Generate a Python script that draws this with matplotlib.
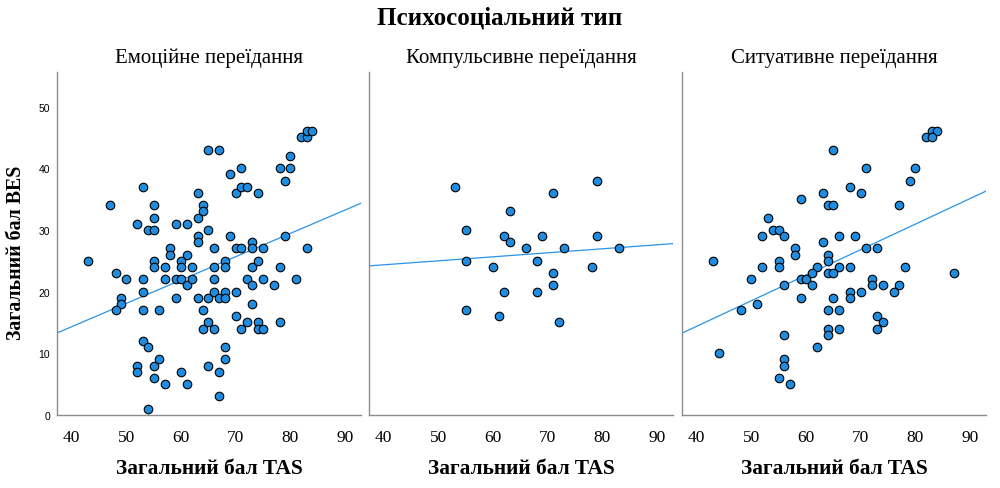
import numpy as np
import matplotlib
matplotlib.use("Agg")
import matplotlib.pyplot as plt

# ---- data ----
panel_titles = ["Емоційне переїдання", "Компульсивне переїдання", "Ситуативне переїдання"]
main_title = "Психосоціальний тип"
x_label = "Загальний бал TAS"
y_label = "Загальний бал BES"
x_ticks = [40, 50, 60, 70, 80, 90]
y_ticks = [0, 10, 20, 30, 40, 50]

emo_tas = [47, 53, 52, 54, 55, 55, 55, 59, 61, 58, 58, 61, 63, 64, 64, 63, 65, 63, 63, 66,
           65, 67, 69, 71, 70, 71, 72, 74, 69, 70, 71, 73, 73, 75, 78, 80, 80, 79, 82, 83,
           83, 84, 79, 83,
           43, 48, 50, 53, 53, 49, 49, 48, 53, 56, 55, 55, 57, 57, 59, 60, 60, 60, 61, 62,
           62, 59, 63, 64, 64, 65, 65, 66, 66, 66, 66, 67, 68, 68, 68, 68, 70, 70, 71, 72,
           72, 73, 73, 73, 74, 74, 74, 75, 75, 77, 78, 78, 81,
           53, 54, 52, 52, 55, 56, 55, 57, 54, 60, 61, 65, 67, 67, 68, 68]
emo_bes = [34, 37, 31, 30, 30, 34, 32, 31, 31, 27, 26, 26, 36, 34, 33, 32, 30, 29, 28, 27,
           43, 43, 39, 40, 36, 37, 37, 36, 29, 27, 27, 28, 27, 27, 40, 42, 40, 38, 45, 45,
           46, 46, 29, 27,
           25, 23, 22, 22, 20, 19, 18, 17, 17, 17, 25, 24, 24, 22, 22, 22, 25, 24, 21, 24,
           22, 19, 19, 17, 14, 15, 19, 24, 22, 20, 14, 19, 25, 24, 20, 19, 20, 16, 14, 22,
           15, 24, 21, 18, 25, 15, 14, 22, 14, 21, 24, 15, 22,
           12, 11, 8, 7, 8, 9, 6, 5, 1, 7, 5, 8, 7, 3, 11, 9]

comp_tas = [53, 79, 71, 63, 55, 62, 63, 69, 79, 66, 73, 83, 55, 68, 60, 78, 71, 71, 62, 68,
            55, 61, 72]
comp_bes = [37, 38, 36, 33, 30, 29, 28, 29, 29, 27, 27, 27, 25, 25, 24, 24, 23, 21, 20, 20,
            17, 16, 15]

sit_tas = [83, 84, 82, 83, 65, 71, 80, 79, 68, 63, 70, 59, 64, 65, 77, 53, 54, 55, 52, 56,
           66, 69, 63, 58, 58, 71, 73, 64, 64, 43, 55, 52, 55, 62, 66, 68, 78, 50, 59, 60,
           61, 64, 65, 72, 87,
           56, 61, 72, 74, 77, 68, 68, 70, 76, 59, 65, 51, 48, 64, 66, 73, 74, 73, 64, 64,
           66, 56, 62, 44, 56, 56, 55, 57]
sit_bes = [46, 46, 45, 45, 43, 40, 40, 38, 37, 36, 36, 35, 34, 34, 34, 32, 30, 30, 29, 29,
           29, 29, 28, 27, 26, 27, 27, 26, 25, 25, 25, 24, 24, 24, 24, 24, 24, 22, 22, 22,
           23, 23, 23, 22, 23,
           21, 21, 21, 21, 21, 20, 19, 20, 20, 19, 19, 18, 17, 17, 17, 16, 15, 14, 14, 13,
           14, 13, 11, 10, 9, 8, 6, 5]

panels = [(emo_tas, emo_bes), (comp_tas, comp_bes), (sit_tas, sit_bes)]

# ---- style ----
serif = "Liberation Serif"
sans = "Liberation Sans"
marker_color = "#1f8ce0"
line_color = "#2a93e8"
spine_color = "#8c8c8c"
xlim = (37.3, 92.9)
ylim = (0, 55.6)

fig = plt.figure(figsize=(10, 4.89), dpi=100)
lefts = [0.057, 0.369, 0.682]
width = 0.304
bottom = 1 - 416 / 489
height = (416 - 73) / 489

fig.text(0.5, 1 - 18 / 489, main_title, ha="center", va="center",
         fontsize=18, fontweight="bold", family=serif)

for i, (xs, ys) in enumerate(panels):
    ax = fig.add_axes([lefts[i], bottom, width, height])
    xs = np.array(xs, dtype=float)
    ys = np.array(ys, dtype=float)
    ax.scatter(xs, ys, s=38, c=marker_color, edgecolors="black", linewidths=0.8, zorder=3)
    k, b = np.polyfit(xs, ys, 1)
    xx = np.array(xlim)
    ax.plot(xx, k * xx + b, color=line_color, lw=0.9, zorder=2)
    ax.set_xlim(*xlim)
    ax.set_ylim(*ylim)
    for s in ["top", "right"]:
        ax.spines[s].set_visible(False)
    for s in ["left", "bottom"]:
        ax.spines[s].set_color(spine_color)
        ax.spines[s].set_linewidth(1.0)
    ax.set_xticks(x_ticks)
    ax.set_xticklabels([str(t) for t in x_ticks], fontsize=12.5, family=serif)
    ax.tick_params(axis="x", length=0, pad=10)
    if i == 0:
        ax.set_yticks(y_ticks)
        ax.set_yticklabels([str(t) for t in y_ticks], fontsize=7.5, family=sans)
        ax.tick_params(axis="y", length=0, pad=5)
        ax.set_ylabel(y_label, fontsize=14.3, fontweight="bold", family=serif)
        ax.yaxis.set_label_coords(-0.102, 0.475)
    else:
        ax.set_yticks([])
    ax.set_title(panel_titles[i], fontsize=15, family=serif, pad=7)
    ax.set_xlabel(x_label, fontsize=15.4, fontweight="bold", family=serif, labelpad=9.5)

fig.savefig("out.png", dpi=100)
